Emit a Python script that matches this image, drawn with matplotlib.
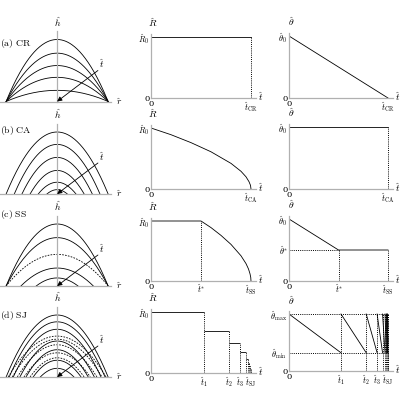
import numpy as np
import matplotlib.pyplot as plt

plt.rcParams['mathtext.fontset'] = 'cm'
plt.rcParams['font.family'] = ['DejaVu Serif']

# ---- left column: drop profiles (half width, height), scaled to the largest drop
cr_width = [1.0, 1.0, 1.0, 1.0, 1.0]
cr_height = [1.0, 0.78, 0.58, 0.39, 0.18]

ca_width = [1.0, 0.84, 0.69, 0.53, 0.37, 0.20]
ca_height = [1.0, 0.80, 0.59, 0.38, 0.19, 0.07]

ss_width = [1.0, 1.0, 0.71, 0.41]
ss_height = [1.0, 0.78, 0.29, 0.13]
ss_dash_width = [1.0]
ss_dash_height = [0.51]

sj_width = [1.0, 0.94, 0.86, 0.73, 0.61, 0.47, 0.33]
sj_height = [1.0, 0.89, 0.77, 0.58, 0.44, 0.27, 0.14]
sj_dash_width = [0.96, 0.88, 0.78, 0.65, 0.53]
sj_dash_height = [0.66, 0.61, 0.52, 0.39, 0.31]

# ---- middle / right columns: contact radius R and angle theta vs time
cr_t = [0.0, 1.0]
cr_R = [1.0, 1.0]
cr_theta = [1.0, 0.0]

ca_t = [0.0, 0.2, 0.4, 0.6, 0.8, 0.9, 0.95, 0.98, 0.995, 1.0]
ca_R = [1.0, 0.89, 0.76, 0.61, 0.42, 0.29, 0.20, 0.12, 0.06, 0.0]
ca_theta_t = [0.0, 1.0]
ca_theta = [1.0, 1.0]

ss_t = [0.0, 0.5, 0.6, 0.7, 0.8, 0.9, 0.95, 0.975, 0.99, 0.9975, 1.0]
ss_R = [1.0, 1.0, 0.89, 0.76, 0.61, 0.42, 0.29, 0.20, 0.12, 0.06, 0.0]
ss_theta_t = [0.0, 0.5, 1.0]
ss_theta = [1.0, 0.5, 0.5]

sj_t = [0.0, 0.525, 0.78, 0.89, 0.945, 0.97, 0.983, 0.99, 0.995, 1.0]
sj_R = [1.0, 0.69, 0.49, 0.34, 0.23, 0.16, 0.11, 0.07, 0.04]
sj_theta_max = 1.0
sj_theta_min = 0.32

AXC = '#b0b0b0'
LW = 0.6
fig = plt.figure(figsize=(4, 4), dpi=100)


def make_axes(left_px, base_px, xlim, ylim, xunit, yunit):
    w = (xlim[1] - xlim[0]) * xunit
    h = (ylim[1] - ylim[0]) * yunit
    ax = fig.add_axes([left_px / 400, (400 - base_px) / 400, w / 400, h / 400])
    ax.set_xlim(xlim)
    ax.set_ylim(ylim)
    ax.patch.set_visible(False)
    for s in ['top', 'right']:
        ax.spines[s].set_visible(False)
    for s in ['left', 'bottom']:
        ax.spines[s].set_color(AXC)
        ax.spines[s].set_linewidth(0.9)
        ax.spines[s].set_position(('data', 0))
    ax.tick_params(length=0, pad=1.2, labelsize=6)
    ax.set_xticks([])
    ax.set_yticks([])
    return ax


def profiles(ax, widths, heights, ls='-'):
    for w, h in zip(widths, heights):
        r = np.linspace(-w, w, 150)
        ax.plot(r, h * (1 - (r / w) ** 2), color='k', lw=LW, ls=ls)


def left_panel(base, label, label_y, sets):
    ax = make_axes(0, base, (-1.12, 1.12), (0, 1.3), 51, 62)
    ax.spines['left'].set_bounds(0, 1.13)
    ax.spines['bottom'].set_bounds(-1.12, 1.05)
    for widths, heights, ls in sets:
        profiles(ax, widths, heights, ls)
    ax.annotate('', xy=(0, 0), xytext=(0.8, 0.5),
                arrowprops=dict(arrowstyle='-|>', lw=0.6, color='k',
                                mutation_scale=7, shrinkA=0, shrinkB=0))
    ax.text(0.83, 0.5, r'$\hat{t}$', fontsize=7, ha='left', va='bottom')
    ax.text(0, 1.17, r'$\hat{h}$', fontsize=7, ha='center', va='bottom')
    ax.text(1.15, 0, r'$\hat{r}$', fontsize=7, ha='left', va='center')
    ax.text(-1.12, label_y, label, fontsize=7, ha='left', va='center')
    return ax


def time_panel(left, base, yunit, ylab):
    ax = make_axes(left, base, (0, 1.12), (0, 1.25), 100 if left < 200 else 99, yunit)
    ax.spines['left'].set_bounds(0, 1.05)
    ax.spines['bottom'].set_bounds(0, 1.05)
    ax.text(0.02, 1.13, ylab, fontsize=7, ha='center', va='bottom')
    ax.text(1.07, 0.02, r'$\hat{t}$', fontsize=7, ha='left', va='center')
    return ax


dot = dict(color='k', lw=0.7, ls=(0, (1, 1.2)))
solid = dict(color='k', lw=LW)
Rlab = r'$\hat{R}$'
Tlab = r'$\hat{\theta}$'

# ---------------- (a) CR
left_panel(101.5, r'$\mathrm{(a)\ CR}$', 0.94, [(cr_width, cr_height, '-')])
ax = time_panel(151, 98, 61, Rlab)
ax.plot(cr_t, cr_R, **solid)
ax.vlines(cr_t[-1], 0, cr_R[-1], **dot)
ax.set_yticks([0, cr_R[0]], ['0', r'$\hat{R}_0$'])
ax.set_xticks([0, cr_t[-1]], ['0', r'$\hat{t}_{\mathrm{CR}}$'])
ax = time_panel(289, 98, 62, Tlab)
ax.plot(cr_t, cr_theta, **solid)
ax.set_yticks([0, cr_theta[0]], ['0', r'$\hat{\theta}_0$'])
ax.set_xticks([0, cr_t[-1]], ['0', r'$\hat{t}_{\mathrm{CR}}$'])

# ---------------- (b) CA
left_panel(194, r'$\mathrm{(b)\ CA}$', 1.03, [(ca_width, ca_height, '-')])
ax = time_panel(151, 189, 61, Rlab)
ax.plot(ca_t, ca_R, **solid)
ax.set_yticks([0, ca_R[0]], ['0', r'$\hat{R}_0$'])
ax.set_xticks([0, ca_t[-1]], ['0', r'$\hat{t}_{\mathrm{CA}}$'])
ax = time_panel(289, 189, 62, Tlab)
ax.plot(ca_theta_t, ca_theta, **solid)
ax.vlines(ca_theta_t[-1], 0, ca_theta[-1], **dot)
ax.set_yticks([0, ca_theta[0]], ['0', r'$\hat{\theta}_0$'])
ax.set_xticks([0, ca_theta_t[-1]], ['0', r'$\hat{t}_{\mathrm{CA}}$'])

# ---------------- (c) SS
left_panel(286, r'$\mathrm{(c)\ SS}$', 1.15,
           [(ss_width, ss_height, '-'), (ss_dash_width, ss_dash_height, (0, (2, 1.5)))])
ax = time_panel(151, 281, 60, Rlab)
ax.plot(ss_t, ss_R, **solid)
ax.vlines(ss_theta_t[1], 0, ss_R[1], **dot)
ax.set_yticks([0, ss_R[0]], ['0', r'$\hat{R}_0$'])
ax.set_xticks([0, ss_theta_t[1], ss_t[-1]],
              ['0', r'$\hat{t}^{*}$', r'$\hat{t}_{\mathrm{SS}}$'])
ax = time_panel(289, 281, 62, Tlab)
ax.plot(ss_theta_t, ss_theta, **solid)
ax.hlines(ss_theta[1], 0, ss_theta_t[1], **dot)
ax.vlines(ss_theta_t[1:], 0, ss_theta[1:], **dot)
ax.set_yticks([0, ss_theta[1], ss_theta[0]],
              ['0', r'$\hat{\theta}^{*}$', r'$\hat{\theta}_0$'])
ax.set_xticks([0, ss_theta_t[1], ss_theta_t[-1]],
              ['0', r'$\hat{t}^{*}$', r'$\hat{t}_{\mathrm{SS}}$'])

# ---------------- (d) SJ
left_panel(377, r'$\mathrm{(d)\ SJ}$', 1.0,
           [(sj_width, sj_height, '-'), (sj_dash_width, sj_dash_height, (0, (2, 1.5)))])
sj_ticks = ['0', r'$\hat{t}_1$', r'$\hat{t}_2$', r'$\hat{t}_3$', r'$\hat{t}_{\mathrm{SJ}}$']
ax = time_panel(151, 373, 61, Rlab)
for t0, t1, R in zip(sj_t[:-1], sj_t[1:], sj_R):
    ax.hlines(R, t0, t1, **solid)
    ax.vlines(t1, 0, R, **dot)
ax.set_yticks([0, sj_R[0]], ['0', r'$\hat{R}_0$'])
ax.set_xticks([0, sj_t[1], sj_t[2], sj_t[3], sj_t[-1]], sj_ticks)
ax = time_panel(289, 371, 57, Tlab)
ax.hlines([sj_theta_max, sj_theta_min], 0, sj_t[-1], **dot)
for t0, t1 in zip(sj_t[:-1], sj_t[1:]):
    ax.plot([t0, t1], [sj_theta_max, sj_theta_min], **solid)
    ax.vlines(t1, 0, sj_theta_max, **dot)
ax.set_yticks([0, sj_theta_min, sj_theta_max],
              ['0', r'$\hat{\theta}_{\mathrm{min}}$', r'$\hat{\theta}_{\mathrm{max}}$'])
ax.set_xticks([0, sj_t[1], sj_t[2], sj_t[3], sj_t[-1]], sj_ticks)

fig.savefig('out.png', dpi=100)
